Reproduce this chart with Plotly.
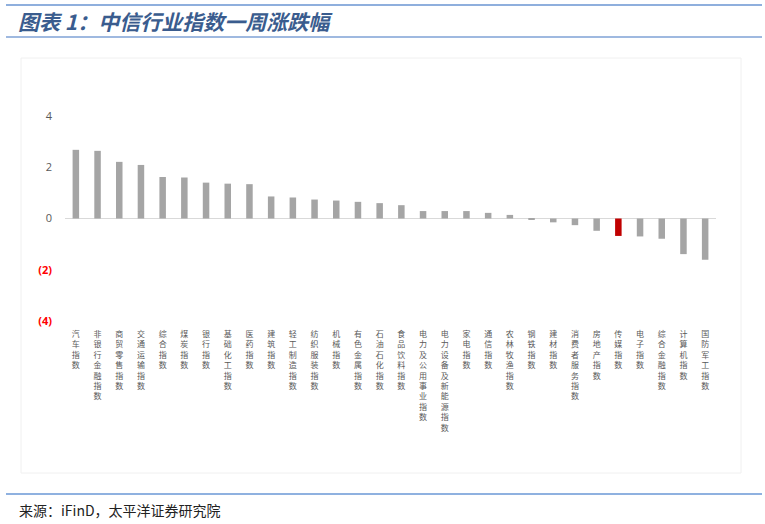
import plotly.graph_objects as go

categories = ["汽车指数", "非银行金融指数", "商贸零售指数", "交通运输指数", "综合指数", "煤炭指数",
              "银行指数", "基础化工指数", "医药指数", "建筑指数", "轻工制造指数", "纺织服装指数",
              "机械指数", "有色金属指数", "石油石化指数", "食品饮料指数", "电力及公用事业指数",
              "电力设备及新能源指数", "家电指数", "通信指数", "农林牧渔指数", "钢铁指数", "建材指数",
              "消费者服务指数", "房地产指数", "传媒指数", "电子指数", "综合金融指数", "计算机指数",
              "国防军工指数"]
values = [2.68, 2.64, 2.21, 2.09, 1.62, 1.60, 1.40, 1.36, 1.34, 0.86, 0.82, 0.74,
          0.70, 0.65, 0.60, 0.52, 0.29, 0.29, 0.29, 0.22, 0.14, -0.03, -0.15,
          -0.26, -0.48, -0.68, -0.70, -0.79, -1.39, -1.61]
highlight = "传媒指数"
ytick_vals = [-4, -2, 0, 2, 4]
ytick_text = ["<b>(4)</b>", "<b>(2)</b>", "0", "2", "4"]

W, H = 765, 524
L, R, T, B = 65, 716, 116, 321

def px(x):
    return (x - L) / (R - L)

def py(y):
    return (B - y) / (B - T)

colors = ["#C00000" if c == highlight else "#A5A5A5" for c in categories]
tick_colored = []
for v, t in zip(ytick_vals, ytick_text):
    if v < 0:
        tick_colored.append(f"<span style='color:#FF0000'>{t}</span>")
    else:
        tick_colored.append(t)

fig = go.Figure()
fig.add_trace(go.Bar(
    x=list(range(len(categories))), y=values, marker_color=colors,
    marker_line_width=0, width=0.3,
))

fig.update_layout(
    width=W, height=H,
    margin=dict(l=L, r=W - R, t=T, b=H - B),
    plot_bgcolor="white", paper_bgcolor="white",
    showlegend=False,
    font=dict(family="Noto Sans CJK SC", color="#595959"),
    xaxis=dict(
        range=[-0.5, len(categories) - 0.5],
        tickvals=list(range(len(categories))),
        ticktext=["<br>".join(list(c)) for c in categories],
        tickangle=0, tickfont=dict(size=8, color="#595959"),
        showgrid=False, showline=False, zeroline=False, ticks="",
        ticklabelstandoff=7,
    ),
    yaxis=dict(
        range=[-4, 4], tickvals=ytick_vals, ticktext=tick_colored,
        tickfont=dict(size=11, color="#595959", family="Open Sans"),
        showgrid=False, showline=False, zeroline=True,
        zerolinecolor="#D9D9D9", zerolinewidth=1, ticks="",
        ticklabelstandoff=12,
    ),
)

shapes = [
    dict(type="line", xref="paper", yref="paper", x0=px(6), x1=px(762), y0=py(5), y1=py(5),
         line=dict(color="#8FAFDD", width=2)),
    dict(type="line", xref="paper", yref="paper", x0=px(6), x1=px(762), y0=py(37), y1=py(37),
         line=dict(color="#7FA2D6", width=1.5)),
    dict(type="line", xref="paper", yref="paper", x0=px(6), x1=px(762), y0=py(494), y1=py(494),
         line=dict(color="#6A97D6", width=1.5)),
    dict(type="rect", xref="paper", yref="paper", x0=px(21), x1=px(741), y0=py(473), y1=py(58),
         line=dict(color="#F0F0F0", width=1), layer="below"),
]
fig.update_layout(shapes=shapes)

fig.add_annotation(
    xref="paper", yref="paper", x=px(16), y=py(21), xanchor="left", yanchor="middle",
    text="<b><i>图表 1：中信行业指数一周涨跌幅</i></b>", showarrow=False,
    font=dict(size=21, color="#3A5C8E", family="Noto Sans CJK SC"),
)
fig.add_annotation(
    xref="paper", yref="paper", x=px(17), y=py(510), xanchor="left", yanchor="middle",
    text="来源：iFinD，太平洋证券研究院", showarrow=False,
    font=dict(size=14, color="#222222", family="Noto Sans CJK SC"),
)

fig.write_html("out.html", config={"displayModeBar": False},
               post_script="document.body.style.margin='0';document.body.style.padding='0';")
